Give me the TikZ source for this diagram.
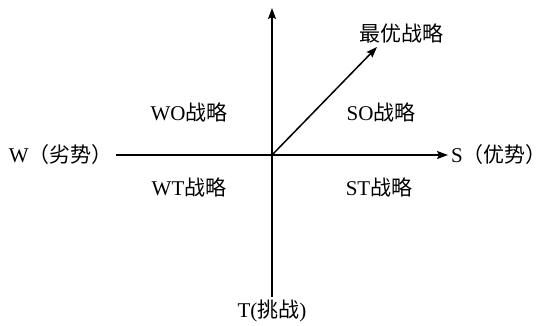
\documentclass[tikz,border=0pt]{standalone}
\usepackage{fontspec}
\setmainfont{Liberation Serif}
\newfontfamily\cjk{Noto Sans CJK SC}
\usetikzlibrary{arrows.meta}

\tikzset{
  axis/.style={line width=1.5pt,-{Stealth[length=11pt,width=8pt,inset=2pt]}},
  lbl/.style={inner sep=3pt,font=\fontsize{21}{25}\selectfont}
}

\begin{document}
\begin{tikzpicture}[x=1pt,y=-1pt]
  \useasboundingbox (0,0) rectangle (549,325);
  \coordinate (O) at (272,155);
  \coordinate (top) at (272,8);
  \coordinate (tip) at (377,47);
  % axis labels
  \node[lbl,anchor=east] (W) at (116,155) {W\cjk（劣势）};
  \node[lbl,anchor=west] (S) at (448,155) {S\cjk（优势）};
  \node[lbl,anchor=north] (T) at (272,297) {T({\cjk 挑战})};
  \node[lbl] (best) at (401,33) {\cjk 最优战略};
  % quadrants
  \node[lbl] (WO) at (189,112) {WO{\cjk 战略}};
  \node[lbl] (SO) at (381,112) {SO{\cjk 战略}};
  \node[lbl] (WT) at (189,187) {WT{\cjk 战略}};
  \node[lbl] (ST) at (379,187) {ST{\cjk 战略}};
  % axes
  \draw[axis] (W) -- (S);
  \draw[axis] (T) -- (top);
  \draw[axis] (O) -- (tip);
\end{tikzpicture}
\end{document}
